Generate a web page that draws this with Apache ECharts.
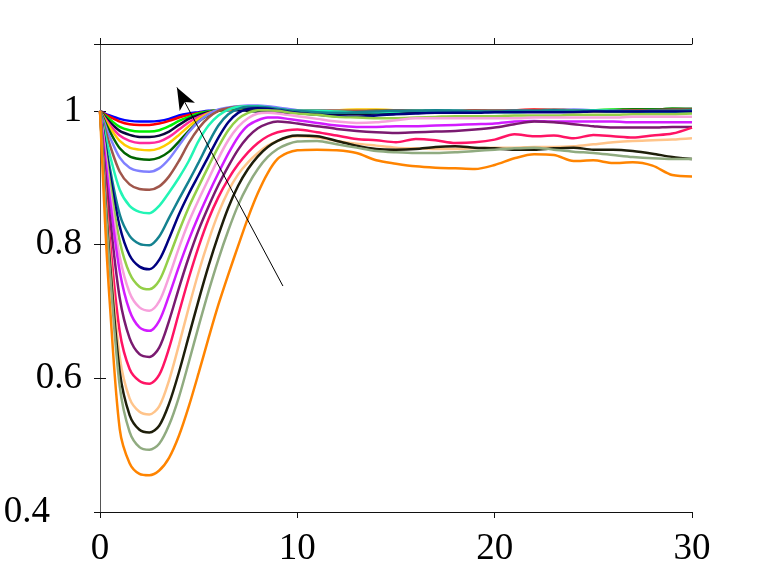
<!DOCTYPE html>
<html>
<head>
<meta charset="utf-8">
<script src="https://cdn.jsdelivr.net/npm/echarts@6/dist/echarts.min.js"></script>
<style>
  html, body { margin: 0; padding: 0; background: #fff; }
  #chart { width: 765px; height: 575px; }
</style>
</head>
<body>
<div id="chart"></div>
<script>
// Sample times (x axis)
const times = [0, 0.25, 0.5, 1, 1.5, 2, 2.5, 3, 3.5, 4, 4.5, 5, 5.5, 6, 6.5, 7, 7.5, 8, 8.5, 9, 9.5, 10,
    11, 12, 13, 14, 15, 16, 17, 18, 19, 20, 21, 22, 23, 24, 25, 26, 27, 28, 29, 30];

// Curve values, shallowest dip first
const blue = [1, 0.996, 0.993, 0.988, 0.985, 0.984, 0.984,
    0.985, 0.988, 0.993, 0.996, 0.998, 1.0, 1.001, 1.002, 1.002, 1.002, 1.002, 1.001, 1.001, 1.0, 1.0,
    1.0, 1.0, 0.999, 0.999, 1.0, 1.001, 1.001, 1.0, 1.0, 1.0, 0.999, 1.0, 1.001, 1.001, 1.0, 1.0, 1.0, 1.001, 1.001, 1.001];
const red = [1, 0.995, 0.991, 0.984, 0.980, 0.979, 0.979,
    0.981, 0.985, 0.990, 0.994, 0.997, 0.999, 1.001, 1.002, 1.003, 1.003, 1.003, 1.002, 1.001, 1.001, 1.0,
    1.0, 0.999, 0.999, 1.0, 1.0, 1.0, 1.001, 1.001, 1.0, 1.0, 1.001, 1.002, 1.001, 1.0, 1.0, 1.001, 1.002, 1.001, 1.001, 1.002];
const green = [1, 0.993, 0.987, 0.976, 0.971, 0.969, 0.969,
    0.971, 0.977, 0.985, 0.991, 0.996, 0.999, 1.001, 1.003, 1.003, 1.003, 1.003, 1.002, 1.002, 1.001, 1.0,
    1.0, 1.0, 1.0, 0.999, 0.999, 1.0, 1.0, 1.0, 1.001, 1.001, 1.0, 1.0, 1.0, 1.0, 1.001, 1.002, 1.002, 1.002, 1.003, 1.002];
const darkNavy = [1, 0.991, 0.983, 0.970, 0.964, 0.961, 0.961,
    0.963, 0.969, 0.979, 0.988, 0.994, 0.998, 1.0, 1.001, 1.001, 1.0, 0.999, 0.998, 0.997, 0.997, 0.997,
    0.996, 0.995, 0.995, 0.996, 0.997, 0.998, 0.998, 0.998, 0.999, 0.999, 0.999, 1.0, 1.0, 1.0, 1.0, 1.0, 1.0, 1.0, 1.0, 1.0];
const pink = [1, 0.989, 0.979, 0.963, 0.955, 0.952, 0.952,
    0.954, 0.961, 0.972, 0.983, 0.991, 0.997, 1.0, 1.002, 1.003, 1.003, 1.003, 1.002, 1.001, 1.0, 1.0,
    1.0, 1.0, 1.0, 1.0, 1.001, 1.001, 1.0, 1.0, 1.0, 1.001, 1.001, 1.0, 1.0, 1.0, 1.0, 1.001, 1.001, 1.0, 1.0, 1.0];
const gold = [1, 0.987, 0.975, 0.955, 0.945, 0.942, 0.941,
    0.944, 0.952, 0.964, 0.977, 0.988, 0.996, 1.0, 1.002, 1.003, 1.003, 1.003, 1.002, 1.001, 1.001, 1.0,
    1.0, 1.001, 1.002, 1.002, 1.001, 1.0, 1.0, 1.0, 1.001, 1.001, 1.0, 1.0, 1.0, 1.0, 0.999, 0.999, 1.0, 1.0, 1.0, 1.0];
const darkGreen = [1, 0.984, 0.969, 0.944, 0.932, 0.928, 0.927,
    0.930, 0.939, 0.954, 0.970, 0.984, 0.994, 1.0, 1.003, 1.004, 1.004, 1.003, 1.002, 1.001, 1.0, 1.0,
    1.0, 0.999, 0.999, 1.0, 1.0, 1.0, 1.001, 1.001, 1.0, 1.0, 1.0, 1.0, 1.0, 1.001, 1.001, 1.001, 1.002, 1.002, 1.003, 1.003];
const periwinkle = [1, 0.980, 0.961, 0.930, 0.915, 0.910, 0.909,
    0.914, 0.928, 0.948, 0.968, 0.984, 0.995, 1.002, 1.005, 1.007, 1.008, 1.008, 1.007, 1.005, 1.003, 1.001,
    1.0, 1.0, 0.999, 0.999, 1.0, 1.0, 1.0, 1.001, 1.0, 1.0, 1.0, 1.001, 1.001, 1.002, 1.001, 1.0, 1.0, 1.0, 1.001, 1.0];
const brown = [1, 0.974, 0.949, 0.909, 0.890, 0.883, 0.882,
    0.887, 0.902, 0.925, 0.952, 0.974, 0.990, 1.0, 1.004, 1.006, 1.006, 1.005, 1.004, 1.002, 1.001, 1.0,
    1.0, 1.0, 1.0, 1.0, 1.001, 1.001, 1.0, 1.0, 1.001, 1.0, 1.0, 1.001, 1.002, 1.001, 1.0, 1.0, 1.001, 1.001, 1.002, 1.002];
const aquamarine = [1, 0.966, 0.934, 0.882, 0.858, 0.849, 0.847,
    0.858, 0.878, 0.900, 0.925, 0.955, 0.978, 0.993, 1.002, 1.006, 1.007, 1.007, 1.005, 1.003, 1.001, 1.0,
    1.0, 0.999, 0.998, 0.998, 0.999, 1.0, 1.0, 1.0, 0.999, 0.998, 0.998, 0.999, 1.0, 1.0, 1.001, 1.0, 0.999, 0.998, 0.998, 0.998];
const teal = [1, 0.956, 0.914, 0.845, 0.813, 0.801, 0.799,
    0.812, 0.840, 0.868, 0.895, 0.923, 0.952, 0.978, 0.995, 1.003, 1.006, 1.006, 1.005, 1.003, 1.001, 1.0,
    0.998, 0.997, 0.998, 0.999, 1.0, 1.0, 1.001, 1.0, 0.999, 0.999, 1.0, 1.0, 1.001, 1.0, 1.0, 0.999, 0.999, 1.0, 1.0, 1.001];
const navy = [1, 0.953, 0.905, 0.827, 0.784, 0.767, 0.763,
    0.777, 0.809, 0.845, 0.876, 0.904, 0.932, 0.960, 0.983, 0.997, 1.003, 1.004, 1.003, 1.001, 0.999, 0.997,
    0.994, 0.992, 0.991, 0.993, 0.995, 0.996, 0.997, 0.997, 0.997, 0.998, 0.998, 0.998, 0.998, 0.998, 0.999, 0.999, 0.999, 0.999, 0.999, 0.999];
const yellowGreen = [1, 0.947, 0.893, 0.805, 0.757, 0.737, 0.733,
    0.746, 0.781, 0.820, 0.856, 0.887, 0.917, 0.946, 0.971, 0.988, 0.997, 1.001, 1.001, 1.0, 0.998, 0.996,
    0.994, 0.991, 0.990, 0.989, 0.989, 0.990, 0.991, 0.992, 0.992, 0.992, 0.993, 0.993, 0.993, 0.994, 0.994, 0.994, 0.995, 0.995, 0.995, 0.996];
const lightPink = [1, 0.940, 0.880, 0.782, 0.728, 0.706, 0.701,
    0.715, 0.752, 0.795, 0.834, 0.867, 0.898, 0.929, 0.956, 0.976, 0.989, 0.996, 0.997, 0.996, 0.994, 0.992,
    0.988, 0.984, 0.982, 0.983, 0.986, 0.989, 0.989, 0.989, 0.989, 0.989, 0.989, 0.990, 0.990, 0.990, 0.990, 0.990, 0.991, 0.991, 0.991, 0.991];
const magenta = [1, 0.934, 0.868, 0.760, 0.701, 0.676, 0.671,
    0.686, 0.724, 0.767, 0.807, 0.843, 0.876, 0.907, 0.936, 0.961, 0.978, 0.986, 0.990, 0.990, 0.988, 0.986,
    0.982, 0.978, 0.976, 0.976, 0.977, 0.977, 0.978, 0.979, 0.980, 0.981, 0.984, 0.985, 0.984, 0.984, 0.984, 0.984, 0.983, 0.983, 0.983, 0.983];
const purple = [1, 0.915, 0.842, 0.720, 0.660, 0.636, 0.632,
    0.646, 0.686, 0.735, 0.781, 0.822, 0.857, 0.889, 0.917, 0.942, 0.961, 0.974, 0.981, 0.984, 0.983, 0.981,
    0.977, 0.973, 0.970, 0.968, 0.967, 0.968, 0.969, 0.970, 0.972, 0.975, 0.980, 0.984, 0.983, 0.980, 0.977, 0.975, 0.975, 0.975, 0.976, 0.976];
const crimson = [1, 0.898, 0.808, 0.670, 0.614, 0.596, 0.592,
    0.605, 0.645, 0.698, 0.750, 0.797, 0.838, 0.871, 0.898, 0.920, 0.938, 0.952, 0.962, 0.968, 0.971, 0.972,
    0.968, 0.963, 0.958, 0.956, 0.953, 0.958, 0.956, 0.952, 0.953, 0.957, 0.965, 0.962, 0.963, 0.959, 0.964, 0.962, 0.960, 0.963, 0.966, 0.975];
const peach = [1, 0.887, 0.787, 0.632, 0.570, 0.550, 0.546,
    0.558, 0.597, 0.650, 0.706, 0.759, 0.806, 0.847, 0.880, 0.905, 0.923, 0.937, 0.948, 0.955, 0.960, 0.962,
    0.960, 0.955, 0.951, 0.948, 0.945, 0.944, 0.943, 0.943, 0.944, 0.945, 0.945, 0.946, 0.946, 0.947, 0.950, 0.953, 0.955, 0.956, 0.957, 0.959];
const black = [1, 0.880, 0.774, 0.610, 0.545, 0.523, 0.519,
    0.529, 0.562, 0.609, 0.663, 0.717, 0.768, 0.814, 0.855, 0.888, 0.913, 0.932, 0.946, 0.955, 0.961, 0.963,
    0.962, 0.955, 0.948, 0.943, 0.942, 0.943, 0.946, 0.947, 0.945, 0.944, 0.942, 0.942, 0.944, 0.945, 0.942, 0.942, 0.940, 0.936, 0.931, 0.928];
const sage = [1, 0.873, 0.762, 0.588, 0.520, 0.497, 0.493,
    0.502, 0.530, 0.572, 0.624, 0.678, 0.730, 0.778, 0.821, 0.859, 0.889, 0.913, 0.931, 0.943, 0.950, 0.954,
    0.955, 0.950, 0.945, 0.940, 0.938, 0.937, 0.937, 0.938, 0.940, 0.942, 0.944, 0.945, 0.942, 0.939, 0.937, 0.934, 0.931, 0.929, 0.928, 0.928];
const orange = [1, 0.837, 0.711, 0.524, 0.473, 0.457, 0.455,
    0.462, 0.481, 0.514, 0.558, 0.608, 0.660, 0.710, 0.755, 0.798, 0.840, 0.877, 0.907, 0.928, 0.937, 0.941,
    0.942, 0.941, 0.937, 0.926, 0.921, 0.917, 0.915, 0.914, 0.913, 0.919, 0.929, 0.935, 0.934, 0.925, 0.926, 0.922, 0.923, 0.918, 0.904, 0.902];

const curves = [blue, red, green, darkNavy, pink, gold, darkGreen, periwinkle, brown, aquamarine, teal,
    navy, yellowGreen, lightPink, magenta, purple, crimson, peach, black, sage, orange];
const colours = ["#0000ff", "#ff0000", "#00ee00", "#0a0a3c", "#ff2a9d", "#ffcc00", "#006400", "#8080ff",
    "#a0564b", "#22f5b5", "#148290", "#000080", "#94cf48", "#f7a0dc", "#d21cff", "#7a1a70",
    "#ff1464", "#ffc48a", "#1e1e0a", "#90ab80", "#ff8400"];

// Arrow from (x, y) start to end
const arrowStart = [9.27, 0.738];
const arrowEnd = [3.9, 1.035];

// Tick labels
const xTicks = [0, 10, 20, 30];
const yTicks = [0.4, 0.6, 0.8, 1];

const chart = echarts.init(document.getElementById("chart"));

const fontFamily = "Liberation Serif";

// One line series for each curve
let series = curves.map((vals, i) => ({
    type: "line",
    data: times.map((t, j) => [t, vals[j]]),
    smooth: 0.3,
    showSymbol: false,
    symbol: "none",
    lineStyle: { color: colours[i], width: 2.5 },
    silent: true,
    z: 2,
}));

// Arrow drawn as a mark line
series.push({
    type: "line",
    data: [],
    silent: true,
    markLine: {
        silent: true,
        symbol: ["none", "arrow"],
        symbolSize: [13, 22],
        label: { show: false },
        lineStyle: { color: "#000", width: 1, type: "solid" },
        emphasis: { disabled: true },
        data: [[{ coord: arrowStart }, { coord: arrowEnd }]],
    },
    z: 5,
});

const option = {
    animation: false,
    backgroundColor: "#fff",
    grid: { left: 100, right: 73, top: 44, bottom: 63, containLabel: false },
    xAxis: [
        {
            type: "value", min: 0, max: 30, interval: 10, position: "bottom",
            axisLine: { lineStyle: { color: "#111", width: 1 } },
            axisTick: { inside: false, length: 6, lineStyle: { color: "#111" } },
            splitLine: { show: false },
            axisLabel: {
                color: "#000", fontFamily: fontFamily, fontSize: 37, margin: 19,
                formatter: v => xTicks.includes(v) ? String(v) : "",
            },
        },
        {
            type: "value", min: 0, max: 30, interval: 10, position: "top",
            axisLine: { lineStyle: { color: "#111", width: 1 } },
            axisTick: { inside: false, length: 6, lineStyle: { color: "#111" } },
            splitLine: { show: false },
            axisLabel: { show: false },
        },
    ],
    yAxis: [
        {
            type: "value", min: 0.4, max: 1.1, interval: 0.2, position: "left",
            axisLine: { show: true, lineStyle: { color: "#555", width: 1 } },
            axisTick: { show: true, inside: false, length: 6, lineStyle: { color: "#111" } },
            splitLine: { show: false },
            axisLabel: {
                color: "#000", fontFamily: fontFamily, fontSize: 37, margin: 18,
                formatter: function (v) {
                    const r = Math.round(v * 10) / 10;
                    if (!yTicks.includes(r)) return "";
                    return r === 0.4 ? "{low|0.4}" : String(r);
                },
                rich: {
                    low: { fontFamily: fontFamily, fontSize: 37, color: "#000", padding: [0, 32, 0, 0] },
                },
            },
        },
        {
            type: "value", min: 0.4, max: 1.1, interval: 0.2, position: "right",
            axisLine: { show: true, lineStyle: { color: "#555", width: 1 } },
            axisTick: { show: true, inside: false, length: 6, lineStyle: { color: "#111" } },
            splitLine: { show: false },
            axisLabel: { show: false },
        },
    ],
    series: series,
};

chart.setOption(option);
</script>
</body>
</html>
